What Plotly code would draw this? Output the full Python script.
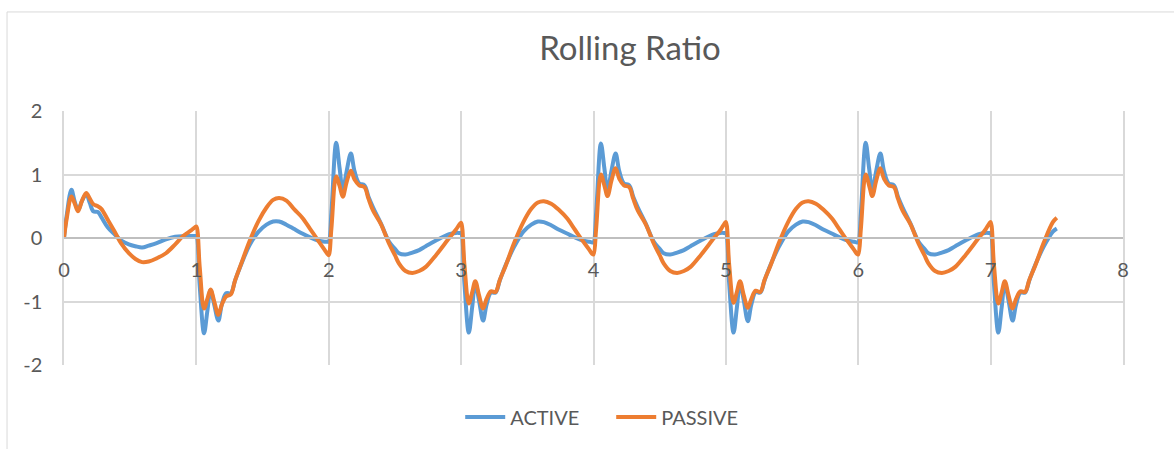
import plotly.graph_objects as go

# Sample positions (x) shared by both series
x_vals = [
    0.000, 0.020, 0.056, 0.080, 0.106, 0.135, 0.168, 0.195, 0.222, 0.256, 0.282, 0.330,
    0.380, 0.433, 0.490, 0.540, 0.590, 0.640, 0.700, 0.770, 0.840, 0.900, 0.960, 0.990,
    1.000, 1.025, 1.058, 1.083, 1.107, 1.135, 1.166, 1.192, 1.225, 1.260, 1.292, 1.336,
    1.400, 1.470, 1.530, 1.580, 1.625, 1.680, 1.740, 1.800, 1.860, 1.920, 1.970, 1.990,
    2.000, 2.020, 2.056, 2.082, 2.106, 2.135, 2.167, 2.195, 2.230, 2.270, 2.300, 2.335,
    2.394, 2.456, 2.500, 2.530, 2.580, 2.632, 2.683, 2.733, 2.810, 2.910, 2.960, 2.990,
    3.000, 3.025, 3.058, 3.083, 3.107, 3.135, 3.166, 3.192, 3.225, 3.260, 3.292, 3.336,
    3.400, 3.470, 3.530, 3.580, 3.625, 3.680, 3.740, 3.800, 3.860, 3.920, 3.970, 3.990,
    4.000, 4.020, 4.056, 4.082, 4.106, 4.135, 4.167, 4.195, 4.230, 4.270, 4.300, 4.335,
    4.394, 4.456, 4.500, 4.530, 4.580, 4.632, 4.683, 4.733, 4.810, 4.910, 4.960, 4.990,
    5.000, 5.025, 5.058, 5.083, 5.107, 5.135, 5.166, 5.192, 5.225, 5.260, 5.292, 5.336,
    5.400, 5.470, 5.530, 5.580, 5.625, 5.680, 5.740, 5.800, 5.860, 5.920, 5.970, 5.990,
    6.000, 6.020, 6.056, 6.082, 6.106, 6.135, 6.167, 6.195, 6.230, 6.270, 6.300, 6.335,
    6.394, 6.456, 6.500, 6.530, 6.580, 6.632, 6.683, 6.733, 6.810, 6.910, 6.960, 6.990,
    7.000, 7.025, 7.058, 7.083, 7.107, 7.135, 7.166, 7.192, 7.225, 7.260, 7.292, 7.336,
    7.400, 7.470, 7.500,
]

active = [
    0.00, 0.35, 0.76, 0.58, 0.44, 0.58, 0.69, 0.55, 0.42, 0.41, 0.33, 0.17,
    0.06, -0.04, -0.10, -0.13, -0.15, -0.12, -0.08, -0.02, 0.02, 0.03, 0.03, 0.03,
    0.03, -0.75, -1.50, -1.15, -0.82, -1.05, -1.30, -1.05, -0.87, -0.87, -0.67, -0.43,
    -0.12, 0.10, 0.21, 0.26, 0.26, 0.21, 0.14, 0.07, 0.01, -0.04, -0.06, -0.06,
    -0.06, 0.40, 1.50, 1.10, 0.75, 1.05, 1.33, 1.05, 0.86, 0.83, 0.65, 0.48,
    0.23, -0.06, -0.17, -0.24, -0.26, -0.23, -0.19, -0.13, -0.04, 0.06, 0.08, 0.08,
    0.08, -0.72, -1.49, -1.10, -0.71, -0.98, -1.30, -1.05, -0.86, -0.86, -0.67, -0.43,
    -0.14, 0.10, 0.21, 0.26, 0.25, 0.20, 0.13, 0.07, 0.01, -0.04, -0.06, -0.07,
    -0.07, 0.40, 1.49, 1.10, 0.75, 1.05, 1.33, 1.05, 0.86, 0.83, 0.65, 0.48,
    0.23, -0.06, -0.17, -0.24, -0.26, -0.23, -0.19, -0.13, -0.04, 0.06, 0.08, 0.08,
    0.08, -0.72, -1.49, -1.10, -0.71, -0.98, -1.31, -1.05, -0.85, -0.86, -0.67, -0.43,
    -0.14, 0.10, 0.21, 0.26, 0.25, 0.20, 0.13, 0.07, 0.01, -0.04, -0.06, -0.07,
    -0.07, 0.40, 1.50, 1.10, 0.75, 1.05, 1.33, 1.05, 0.86, 0.83, 0.65, 0.48,
    0.23, -0.06, -0.17, -0.24, -0.26, -0.23, -0.19, -0.13, -0.04, 0.06, 0.08, 0.08,
    0.08, -0.72, -1.49, -1.10, -0.71, -0.98, -1.30, -1.05, -0.86, -0.86, -0.67, -0.43,
    -0.14, 0.10, 0.15,
]

passive = [
    0.00, 0.30, 0.655, 0.55, 0.42, 0.58, 0.71, 0.62, 0.53, 0.50, 0.46, 0.29,
    0.11, -0.09, -0.24, -0.33, -0.38, -0.37, -0.32, -0.24, -0.10, 0.03, 0.12, 0.17,
    0.18, -0.45, -1.11, -0.96, -0.81, -1.00, -1.21, -1.05, -0.92, -0.89, -0.67, -0.42,
    -0.06, 0.27, 0.48, 0.60, 0.63, 0.59, 0.45, 0.32, 0.14, -0.04, -0.19, -0.25,
    -0.27, 0.15, 0.97, 0.82, 0.65, 0.88, 1.06, 0.92, 0.83, 0.80, 0.62, 0.43,
    0.22, -0.09, -0.27, -0.40, -0.52, -0.55, -0.52, -0.455, -0.27, 0.00, 0.13, 0.22,
    0.24, -0.42, -1.03, -0.86, -0.68, -0.90, -1.11, -0.96, -0.84, -0.85, -0.66, -0.44,
    -0.08, 0.25, 0.46, 0.56, 0.58, 0.54, 0.44, 0.31, 0.13, -0.05, -0.19, -0.25,
    -0.26, 0.15, 1.00, 0.83, 0.66, 0.90, 1.10, 0.93, 0.83, 0.80, 0.62, 0.43,
    0.22, -0.09, -0.27, -0.40, -0.52, -0.55, -0.52, -0.455, -0.27, 0.00, 0.13, 0.23,
    0.25, -0.42, -1.02, -0.85, -0.68, -0.90, -1.10, -0.96, -0.83, -0.85, -0.66, -0.44,
    -0.08, 0.25, 0.46, 0.56, 0.58, 0.54, 0.44, 0.31, 0.13, -0.05, -0.19, -0.25,
    -0.26, 0.15, 1.00, 0.83, 0.66, 0.90, 1.10, 0.93, 0.83, 0.80, 0.62, 0.43,
    0.22, -0.09, -0.27, -0.40, -0.52, -0.55, -0.52, -0.455, -0.27, 0.00, 0.13, 0.23,
    0.25, -0.42, -1.03, -0.86, -0.68, -0.90, -1.11, -0.96, -0.84, -0.85, -0.66, -0.44,
    -0.08, 0.25, 0.32,
]

x_ticks = [0, 1, 2, 3, 4, 5, 6, 7, 8]
y_ticks = [-2, -1, 0, 1, 2]

TEXT = "#595959"
GRID = "#d9d9d9"
AXIS = "#bfbfbf"

fig = go.Figure()
fig.add_trace(go.Scatter(
    x=x_vals, y=active, name="ACTIVE", mode="lines",
    line=dict(color="#5B9BD5", width=4, shape="spline", smoothing=1.0),
))
fig.add_trace(go.Scatter(
    x=x_vals, y=passive, name="PASSIVE", mode="lines",
    line=dict(color="#ED7D31", width=4, shape="spline", smoothing=1.0),
))

# Thin frame around the whole chart area
fig.add_shape(
    type="rect", xref="paper", yref="paper",
    x0=-0.0538, x1=1.06, y0=-0.40, y1=1.39,
    line=dict(color=GRID, width=1), fillcolor="rgba(0,0,0,0)", layer="below",
)

fig.update_layout(
    width=1174, height=449,
    margin=dict(l=64, r=51, t=111, b=84, autoexpand=False),
    paper_bgcolor="white", plot_bgcolor="white",
    font=dict(family="Lato", color=TEXT, size=20),
    title=dict(text="Rolling Ratio", xref="container", x=0.5366, xanchor="center",
               yref="container", y=0.893, yanchor="middle",
               font=dict(size=33, color=TEXT)),
    legend=dict(orientation="h", xref="container", x=0.392, xanchor="left",
                yref="container", y=0.071, yanchor="middle",
                font=dict(size=20, color=TEXT), itemwidth=40,
                entrywidth=96, entrywidthmode="pixels"),
    showlegend=True,
)

fig.update_xaxes(
    range=[0, 8], tickvals=x_ticks, ticktext=[str(v) for v in x_ticks],
    showgrid=True, gridcolor=GRID, gridwidth=1.5, zeroline=False,
    anchor="free", position=0.5, showline=True, linecolor=AXIS, linewidth=1.5,
    ticks="outside", ticklen=14, tickcolor="rgba(0,0,0,0)",
    tickfont=dict(size=20, color=TEXT), automargin=False,
)
fig.update_yaxes(
    range=[-2, 2], tickvals=y_ticks, ticktext=[str(v) for v in y_ticks],
    showgrid=True, gridcolor=GRID, gridwidth=1.5, zeroline=False,
    showline=True, linecolor=GRID, linewidth=1.5, mirror=True,
    ticks="outside", ticklen=16, tickcolor="rgba(0,0,0,0)",
    tickfont=dict(size=20, color=TEXT), automargin=False,
)

fig.write_html("out.html")
